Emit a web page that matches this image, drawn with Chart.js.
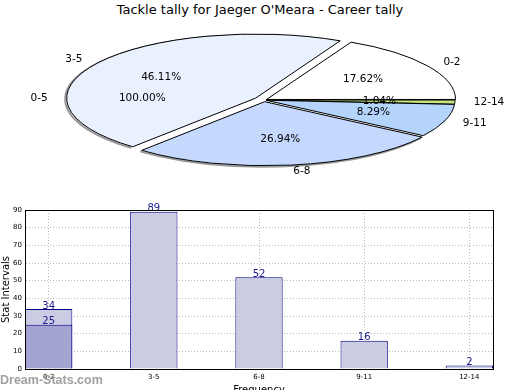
<!DOCTYPE html>
<html>
<head>
<meta charset="utf-8">
<script src="https://cdn.jsdelivr.net/npm/chart.js@4"></script>
<style>
body { margin: 0; background: #fff; width: 520px; height: 390px; position: relative; overflow: hidden; font-family: "DejaVu Sans", sans-serif; }
#title { position: absolute; left: 0; top: 2px; width: 520px; text-align: center; font-size: 13px; line-height: 16px; color: #000; }
#pieBox { position: absolute; left: 0; top: 0; width: 520px; height: 200px; }
#barBox { position: absolute; left: 0; top: 195px; width: 520px; height: 195px; }
#mark { position: absolute; left: 0; top: 373px; font: bold 12.5px "Liberation Sans", sans-serif; color: #a0a0a0; }
</style>
</head>
<body>
<div id="title">Tackle tally for Jaeger O'Meara - Career tally</div>
<div id="pieBox"><canvas id="pie" width="520" height="200"></canvas></div>
<div id="barBox"><canvas id="bar" width="520" height="195"></canvas></div>
<div id="mark">Dream-Stats.com</div>
<script>
// pie data (percent of career)
const pieLabels = ['0-2', '3-5', '6-8', '9-11', '12-14'];
const piePct = [17.62, 46.11, 26.94, 8.29, 1.04];
const pieColors = ['#ffffff', '#eaf1fe', '#c5d8fd', '#b5d4fc', '#c8e680'];
const pieExplode = [3, 10, 5, 2, 2];
// the odd overall label that sits on the left of the pie
const totalLabel = '0-5';
const totalPct = 100.00;

// bar data
const barLabels = ['0-2', '3-5', '6-8', '9-11', '12-14'];
const barValues = [34, 89, 52, 16, 2];
const barInner = [25, null, null, null, null];
const yMax = 90;

const SY = 0.339;

// reversed so chart.js (clockwise) matches the counter-clockwise pie
const rev = a => a.slice().reverse();

const squash = {
  id: 'squash',
  afterUpdate(chart) {
    const arcs = chart.getDatasetMeta(0).data;
    const ex = rev(pieExplode);
    arcs.forEach((el, i) => {
      const mid = (el.startAngle + el.endAngle) / 2;
      el.x += Math.cos(mid) * ex[i];
      el.y += Math.sin(mid) * ex[i];
    });
  },
  beforeDatasetsDraw(chart) {
    const ctx = chart.ctx;
    const a = chart.chartArea;
    const cx = (a.left + a.right) / 2, cy = (a.top + a.bottom) / 2;
    const dpr = chart.currentDevicePixelRatio;
    ctx.save();
    ctx.translate(cx, cy);
    ctx.scale(1, SY);
    ctx.translate(-cx, -cy);
    const orig = CanvasRenderingContext2D.prototype.stroke;
    ctx.stroke = function () {
      this.save();
      this.setTransform(dpr, 0, 0, dpr, 0, 0);
      orig.apply(this, arguments);
      this.restore();
    };
    // thin grey rim on the lower left edge
    const arcs = chart.getDatasetMeta(0).data;
    ctx.strokeStyle = '#9a9a9a';
    ctx.lineWidth = 2;
    [2, 1].forEach(i => {
      const el = arcs[rev(pieLabels).indexOf(pieLabels[i])];
      ctx.beginPath();
      ctx.arc(el.x - 1.5, el.y + 1 / SY, el.outerRadius, el.startAngle, el.endAngle);
      ctx.stroke();
    });
  },
  afterDatasetsDraw(chart) {
    const ctx = chart.ctx;
    delete ctx.stroke;
    ctx.restore();
    const a = chart.chartArea;
    const cy = (a.top + a.bottom) / 2;
    const arcs = chart.getDatasetMeta(0).data;
    const labs = rev(pieLabels), pcts = rev(piePct);
    ctx.save();
    ctx.fillStyle = '#000';
    ctx.font = '10.5px "DejaVu Sans"';
    ctx.textBaseline = 'middle';
    const put = (x, y, r, ang, lab, pct) => {
      const c = Math.cos(ang), s = Math.sin(ang);
      ctx.textAlign = c >= 0 ? 'left' : 'right';
      ctx.fillText(lab, x + c * r * 1.1, y + s * r * 1.1 * SY);
      ctx.textAlign = 'center';
      ctx.fillText(pct.toFixed(2) + '%', x + c * r * 0.6, y + s * r * 0.6 * SY);
    };
    arcs.forEach((el, i) => {
      const mid = (el.startAngle + el.endAngle) / 2;
      const y = cy + (el.y - cy) * SY;
      put(el.x, y, el.outerRadius, mid, labs[i], pcts[i]);
    });
    const big = arcs[labs.indexOf('3-5')];
    put(big.x, cy + (big.y - cy) * SY, big.outerRadius, Math.PI, totalLabel, totalPct);
    ctx.restore();
  }
};

new Chart(document.getElementById('pie'), {
  type: 'pie',
  data: {
    labels: rev(pieLabels),
    datasets: [{
      data: rev(piePct),
      backgroundColor: rev(pieColors),
      borderColor: '#000',
      borderWidth: 1,
      radius: 189
    }]
  },
  options: {
    responsive: false,
    animation: false,
    rotation: 90,
    layout: { padding: { left: 8 } },
    plugins: { legend: { display: false }, tooltip: { enabled: false } }
  },
  plugins: [squash]
});

const valueLabels = {
  id: 'valueLabels',
  afterDraw(chart) {
    const ctx = chart.ctx;
    ctx.save();
    ctx.font = '10px "DejaVu Sans"';
    ctx.fillStyle = '#1a1a8a';
    ctx.textAlign = 'center';
    ctx.textBaseline = 'middle';
    chart.data.datasets.forEach((ds, di) => {
      chart.getDatasetMeta(di).data.forEach((el, i) => {
        const v = ds.data[i].y;
        if (v == null) return;
        ctx.fillText(v, el.x, el.y - 3);
      });
    });
    const a = chart.chartArea;
    ctx.strokeStyle = '#000';
    ctx.lineWidth = 1;
    ctx.strokeRect(a.left + 0.5, a.top + 0.5, a.right - a.left, a.bottom - a.top);
    ctx.restore();
  }
};

const pts = arr => arr.map((v, i) => ({ x: i, y: v }));
const tickFont = { family: 'DejaVu Sans', size: 7 };

new Chart(document.getElementById('bar'), {
  type: 'bar',
  data: {
    datasets: [
      { data: pts(barInner), backgroundColor: '#a4a4d2', borderColor: '#000080', borderWidth: 1 },
      { data: pts(barValues), backgroundColor: '#cbcbe4', borderColor: '#000080', borderWidth: 1 }
    ]
  },
  options: {
    responsive: false,
    animation: false,
    grouped: false,
    categoryPercentage: 1,
    barPercentage: 0.45,
    layout: { padding: { top: 15, right: 27, left: 0, bottom: 0 } },
    plugins: { legend: { display: false }, tooltip: { enabled: false } },
    scales: {
      x: {
        type: 'linear', min: -0.225, max: 4.225, z: 1, offset: false,
        afterBuildTicks(s) { s.ticks = barLabels.map((l, i) => ({ value: i })); },
        afterFit(s) { s.height = 21; },
        ticks: { callback: v => barLabels[v], font: tickFont, color: '#000', padding: 4, autoSkip: false, maxRotation: 0 },
        grid: { color: '#b8b8b8', drawTicks: false, offset: false },
        border: { color: '#000', dash: [1, 2] },
        title: { display: true, text: 'Frequency', font: { family: 'DejaVu Sans', size: 10 }, color: '#000', padding: { top: 0, bottom: -6 } }
      },
      y: {
        min: 0, max: yMax, z: 1,
        afterFit(s) { s.width = 25; },
        ticks: { stepSize: 10, font: tickFont, color: '#000', padding: 3 },
        grid: { color: '#b8b8b8', drawTicks: false },
        border: { color: '#000', dash: [1, 2] },
        title: { display: true, text: 'Stat Intervals', font: { family: 'DejaVu Sans', size: 10 }, color: '#000', padding: { top: 0, bottom: 0 } }
      }
    }
  },
  plugins: [valueLabels]
});
</script>
</body>
</html>
